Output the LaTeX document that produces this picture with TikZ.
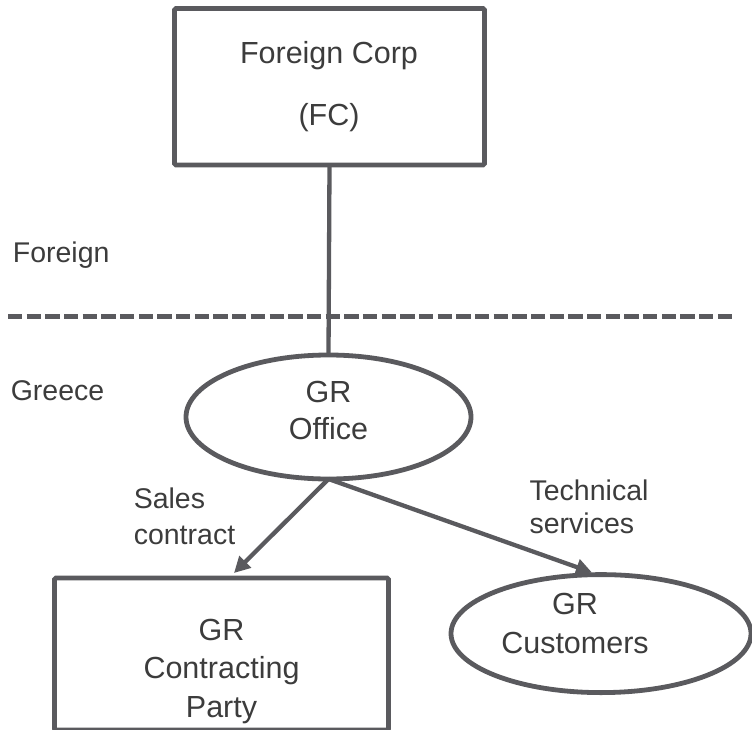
\documentclass[tikz,border=0pt]{standalone}
\usepackage{fontspec}
\setmainfont{Liberation Sans}
\usetikzlibrary{shapes.geometric,arrows.meta}

\definecolor{edgegrey}{RGB}{90,90,94}
\definecolor{inkgrey}{RGB}{60,60,60}

% centred and left-aligned stacks of lines; baseline = first line
\newcommand{\centerstack}[1]{\begin{tabular}[t]{@{}c@{}}#1\end{tabular}}
\newcommand{\leftstack}[1]{\begin{tabular}[t]{@{}l@{}}#1\end{tabular}}

\tikzset{
  shapeline/.style={draw=edgegrey, line width=4.8pt, inner sep=0pt, outer sep=0pt},
  boxnode/.style={shapeline, rectangle, rounded corners=1.5pt},
  ovalnode/.style={shapeline, ellipse},
  nodetext/.style={text=inkgrey, inner sep=0pt, anchor=base,
    font=\fontsize{30.5}{#1}\selectfont},
  labeltext/.style={text=inkgrey, inner sep=0pt, anchor=base west,
    font=\fontsize{28.5}{#1}\selectfont},
  connector/.style={draw=edgegrey, line width=4.3pt},
  flow/.style={connector, -{Triangle[length=16pt,width=16pt]}},
  divider/.style={draw=edgegrey, line width=4.3pt, dash pattern=on 14.3pt off 4.38pt},
}

\begin{document}
\begin{tikzpicture}[x=1pt, y=-1pt]
  \useasboundingbox (0,0) rectangle (752,730);

  % foreign parent company
  \node[boxnode, minimum width=310pt, minimum height=156.5pt] (fc) at (329.5,86.75) {};
  \node[nodetext=62] (fctext) at (329,64) {\centerstack{Foreign Corp\\(FC)}};

  % border between jurisdictions
  \coordinate (divl) at (8,316.5);
  \coordinate (divr) at (732.3,316.5);
  \draw[divider] (divl) -- (divr);

  \node[labeltext=35.5] (lblforeign) at (12.7,262) {Foreign};
  \node[labeltext=35.5] (lblgreece) at (10.6,400) {Greece};

  % local office
  \node[ovalnode, minimum width=285pt, minimum height=124pt] (office) at (328.5,417) {};
  \node[nodetext=37] (officetext) at (328.5,402) {\centerstack{GR\\Office}};

  % contracting party
  \node[boxnode, minimum width=334pt, minimum height=152pt] (cp) at (221.5,654) {};
  \node[nodetext=38.5] (cptext) at (221.5,640) {\centerstack{GR\\Contracting\\Party}};

  % customers
  \node[ovalnode, minimum width=300pt, minimum height=118pt] (cust) at (601,633.6) {};
  \node[nodetext=39] (custtext) at (575,614) {\centerstack{GR\\Customers}};

  % connectors
  \draw[connector] (fc.south) -- (office.north);

  \coordinate (salesend) at (234,573);
  \coordinate (techend) at (592,572.5);
  \draw[flow] (office.south) -- (salesend);
  \draw[flow] (office.south) -- (techend);

  \node[labeltext=35.5] (lblsales) at (133.6,508.5) {\leftstack{Sales\\contract}};
  \node[labeltext=33] (lbltech) at (529.4,500) {\leftstack{Technical\\services}};
\end{tikzpicture}
\end{document}
